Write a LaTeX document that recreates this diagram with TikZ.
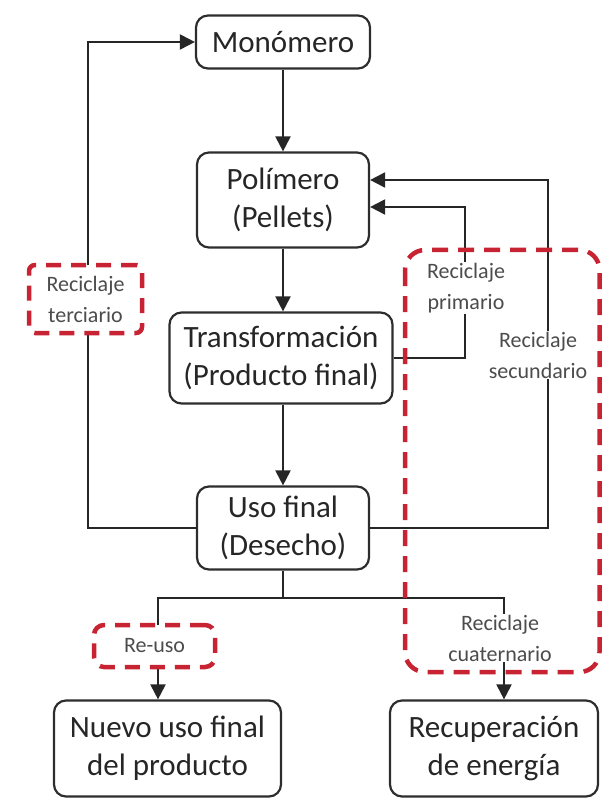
\documentclass[tikz,border=0pt]{standalone}
\usepackage{fontspec}
\setmainfont{Carlito}
\usetikzlibrary{arrows.meta}
\definecolor{boxline}{RGB}{45,45,45}
\definecolor{recred}{RGB}{200,35,50}
\begin{document}
\begin{tikzpicture}[x=1pt,y=-1pt,
  box/.style={draw=boxline,line width=2.2pt,rounded corners=12pt,align=center,
    font=\fontsize{31}{38}\selectfont,text=black!85,inner sep=0pt},
  lab/.style={align=center,font=\fontsize{22}{31}\selectfont,text=black!70,fill=white,inner sep=1pt},
  redbox/.style={lab,draw=recred,line width=4.5pt,dash pattern=on 15pt off 10pt,rounded corners=6pt},
  link/.style={line width=2pt,draw=black!85},
  arr/.style={link,-{Triangle[width=15pt,length=15pt]}}]
\useasboundingbox (0,0) rectangle (602,799);
% Boxes
\node[box,minimum width=174pt,minimum height=53pt] (mono) at (283,42) {Monómero};
\node[box,minimum width=172pt,minimum height=95pt] (poli) at (283,200) {Polímero\\(Pellets)};
\node[box,minimum width=223pt,minimum height=91pt] (trans) at (281,358) {Transformación\\(Producto final)};
\node[box,minimum width=172pt,minimum height=83pt] (uso) at (283,528) {Uso final\\(Desecho)};
\node[box,minimum width=227pt,minimum height=96pt] (nuevo) at (167.5,748.5) {Nuevo uso final\\del producto};
\node[box,minimum width=208pt,minimum height=96pt] (recu) at (494,748.5) {Recuperación\\de energía};
% Main chain
\draw[arr] (mono.south) -- (mono.south |- poli.north);
\draw[arr] (poli.south) -- (poli.south |- trans.north);
\draw[arr] (poli.south |- trans.south) -- (uso.north);
% Recycling loops
\draw[arr] (uso.west) -- (88,528) -- (88,42) -- (mono.west);
\draw[arr] (uso.east) -- (548,528) -- (548,180) -- (poli.east |- 0,180);
\draw[arr] (trans.east) -- (465,358) -- (465,207) -- (poli.east |- 0,207);
% Split below Uso final
\coordinate (split) at (283,598);
\draw[link] (uso.south) -- (split);
\draw[arr] (split) -| (nuevo.north -| 158,0);
\draw[arr] (split) -| (recu.north -| 504,0);
% Labels
\node[redbox,minimum width=113pt,minimum height=68pt] (terc) at (85.5,299) {Reciclaje\\terciario};
\node[redbox,minimum width=121pt,minimum height=42pt,rounded corners=10pt] (reuso) at (154.5,646) {Re-uso};
\node[lab] (prim) at (466,288) {Reciclaje\\primario};
\node[lab] (sec) at (538,355) {Reciclaje\\secundario};
\node[lab] (cuat) at (500,638) {Reciclaje\\cuaternario};
% Dashed region
\draw[recred,line width=4.5pt,dash pattern=on 16pt off 10pt,rounded corners=20pt] (405,250) rectangle (599.5,672);
\end{tikzpicture}
\end{document}
